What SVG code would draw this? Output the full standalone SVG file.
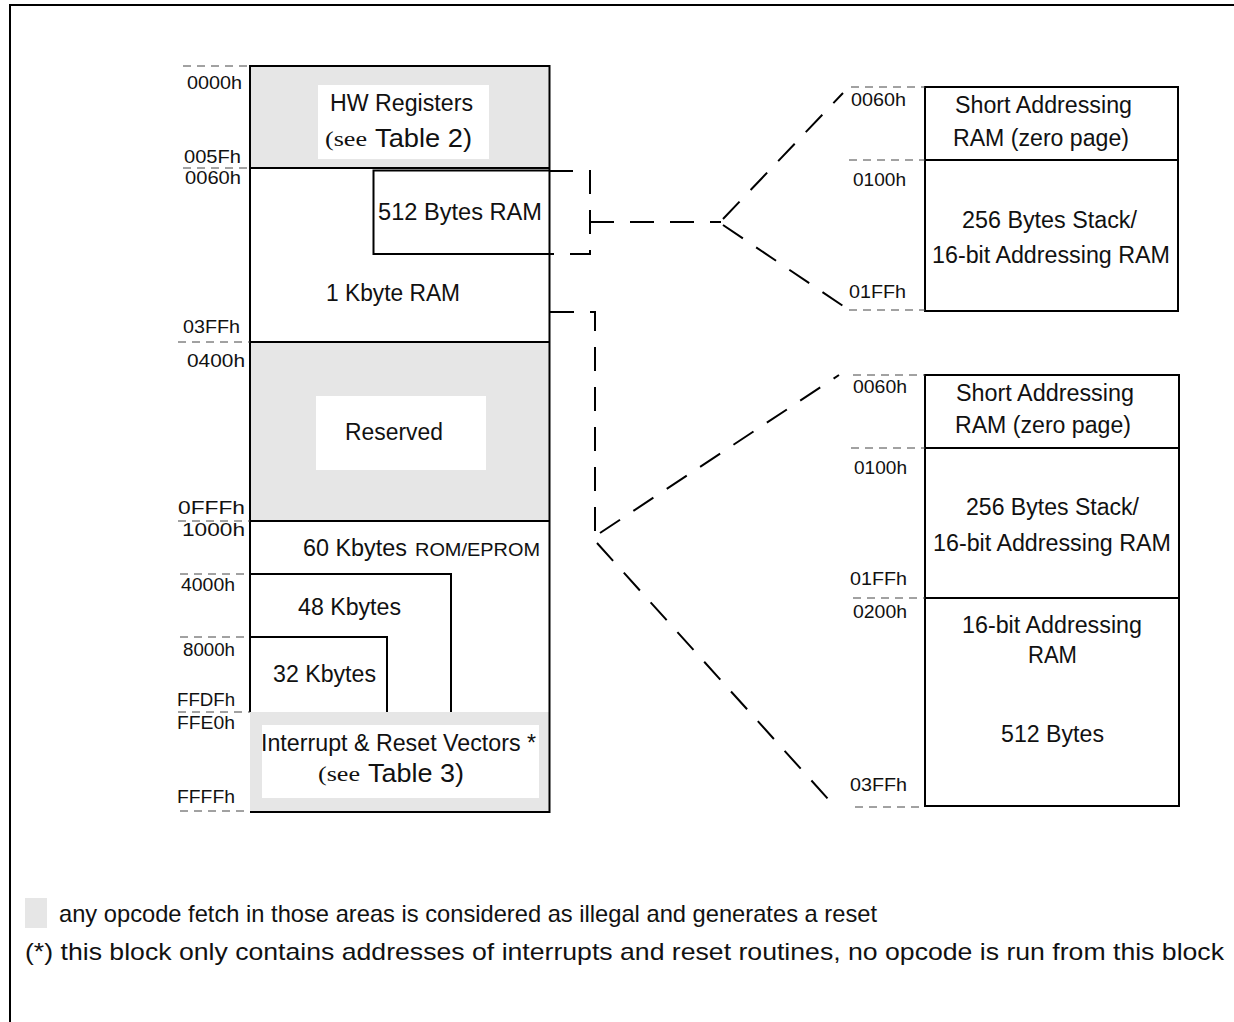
<svg xmlns="http://www.w3.org/2000/svg" width="1234" height="1022" viewBox="0 0 1234 1022">
<style>
  .box { fill: none; stroke: #000; stroke-width: 2; }
  .ln { stroke: #000; stroke-width: 2; fill: none; }
  .gray { fill: #e6e6e6; stroke: none; }
  .white { fill: #fff; stroke: none; }
  .tick { stroke: #444; stroke-width: 1; stroke-dasharray: 8 6; fill: none; }
  .conn { stroke: #000; stroke-width: 2; stroke-dasharray: 24 16; fill: none; }
  .addr { font-family: "Liberation Sans", Arial, sans-serif; font-size: 18px; fill: #111; }
  .lbl { font-family: "Liberation Sans", Arial, sans-serif; font-size: 23px; fill: #111; }
  .ser { font-family: "Liberation Serif", "Times New Roman", serif; font-size: 22px; fill: #111; }
  .big { font-family: "Liberation Sans", Arial, sans-serif; font-size: 26px; fill: #111; }
  .sm { font-family: "Liberation Sans", Arial, sans-serif; font-size: 19px; fill: #111; }
  .leg { font-family: "Liberation Sans", Arial, sans-serif; font-size: 24px; fill: #111; }
</style>
<rect x="0" y="0" width="1234" height="1022" fill="#fff"/>
<g id="frame">
  <path class="ln" d="M10,1022 V5 H1234"/>
</g>

<g id="main-map">
  <rect class="gray" x="250" y="66" width="300" height="102"/>
  <rect class="white" x="318" y="85" width="171" height="74"/>
  <rect class="gray" x="250" y="342" width="300" height="179"/>
  <rect class="white" x="316" y="396" width="170" height="74"/>
  <rect class="gray" x="250" y="712" width="300" height="100"/>
  <rect class="white" x="262" y="725" width="277" height="73"/>
  <path class="ln" d="M250,712 V66 H549.5 V812 H250"/>
  <line class="ln" x1="250" y1="168" x2="550" y2="168"/>
  <line class="ln" x1="250" y1="342" x2="550" y2="342"/>
  <line class="ln" x1="250" y1="521" x2="550" y2="521"/>
  <path class="ln" d="M250,574 H451 V712"/>
  <path class="ln" d="M250,637 H387 V712"/>
</g>

<g id="ram512-box">
  <path class="ln" d="M549,170.5 H373.5 V254 H549"/>
</g>

<g id="ticks-left">
  <line class="tick" x1="183" y1="66" x2="250" y2="66"/>
  <line class="tick" x1="183" y1="168" x2="250" y2="168"/>
  <line class="tick" x1="178" y1="342" x2="250" y2="342"/>
  <line class="tick" x1="178" y1="521" x2="250" y2="521"/>
  <line class="tick" x1="180" y1="574" x2="250" y2="574"/>
  <line class="tick" x1="180" y1="637" x2="250" y2="637"/>
  <line class="tick" x1="178" y1="712" x2="250" y2="712"/>
  <line class="tick" x1="180" y1="811" x2="250" y2="811"/>
</g>

<g id="labels-left">
  <text class="addr" x="187" y="89" textLength="55" lengthAdjust="spacingAndGlyphs">0000h</text>
  <text class="addr" x="184" y="163" textLength="57" lengthAdjust="spacingAndGlyphs">005Fh</text>
  <text class="addr" x="185" y="184" textLength="56" lengthAdjust="spacingAndGlyphs">0060h</text>
  <text class="addr" x="183" y="333" textLength="57" lengthAdjust="spacingAndGlyphs">03FFh</text>
  <text class="addr" x="187" y="367" textLength="58" lengthAdjust="spacingAndGlyphs">0400h</text>
  <text class="addr" x="178" y="514" textLength="67" lengthAdjust="spacingAndGlyphs">0FFFh</text>
  <text class="addr" x="182" y="536" textLength="63" lengthAdjust="spacingAndGlyphs">1000h</text>
  <text class="addr" x="181" y="591" textLength="54" lengthAdjust="spacingAndGlyphs">4000h</text>
  <text class="addr" x="183" y="656" textLength="52" lengthAdjust="spacingAndGlyphs">8000h</text>
  <text class="addr" x="177" y="706" textLength="58" lengthAdjust="spacingAndGlyphs">FFDFh</text>
  <text class="addr" x="177" y="729" textLength="58" lengthAdjust="spacingAndGlyphs">FFE0h</text>
  <text class="addr" x="177" y="803" textLength="58" lengthAdjust="spacingAndGlyphs">FFFFh</text>
</g>

<g id="labels-main">
  <text class="lbl" x="330" y="111" textLength="143" lengthAdjust="spacingAndGlyphs">HW Registers</text>
  <text class="ser" x="325" y="146" textLength="42" lengthAdjust="spacingAndGlyphs">(see</text>
  <text class="big" x="375" y="147" textLength="97" lengthAdjust="spacingAndGlyphs">Table 2)</text>
  <text class="lbl" x="378" y="220" textLength="164" lengthAdjust="spacingAndGlyphs">512 Bytes RAM</text>
  <text class="lbl" x="326" y="301" textLength="134" lengthAdjust="spacingAndGlyphs">1 Kbyte RAM</text>
  <text class="lbl" x="345" y="440" textLength="98" lengthAdjust="spacingAndGlyphs">Reserved</text>
  <text class="lbl" x="303" y="556" textLength="104" lengthAdjust="spacingAndGlyphs">60 Kbytes</text>
  <text class="sm" x="415" y="556" textLength="125" lengthAdjust="spacingAndGlyphs">ROM/EPROM</text>
  <text class="lbl" x="298" y="615" textLength="103" lengthAdjust="spacingAndGlyphs">48 Kbytes</text>
  <text class="lbl" x="273" y="682" textLength="103" lengthAdjust="spacingAndGlyphs">32 Kbytes</text>
  <text class="lbl" x="261" y="751" textLength="275" lengthAdjust="spacingAndGlyphs">Interrupt &amp; Reset Vectors *</text>
  <text class="ser" x="318" y="781" textLength="42" lengthAdjust="spacingAndGlyphs">(see</text>
  <text class="big" x="368" y="782" textLength="96" lengthAdjust="spacingAndGlyphs">Table 3)</text>
</g>

<g id="zero-page-map-1">
  <rect class="box" x="925" y="87" width="253" height="224"/>
  <line class="ln" x1="925" y1="160" x2="1178" y2="160"/>
  <line class="tick" x1="851" y1="87" x2="925" y2="87"/>
  <line class="tick" x1="849" y1="160" x2="925" y2="160"/>
  <line class="tick" x1="849" y1="310" x2="925" y2="310"/>
  <text class="addr" x="851" y="106" textLength="55" lengthAdjust="spacingAndGlyphs">0060h</text>
  <text class="addr" x="853" y="186" textLength="53" lengthAdjust="spacingAndGlyphs">0100h</text>
  <text class="addr" x="849" y="298" textLength="57" lengthAdjust="spacingAndGlyphs">01FFh</text>
  <text class="lbl" x="955" y="113" textLength="177" lengthAdjust="spacingAndGlyphs">Short Addressing</text>
  <text class="lbl" x="953" y="146" textLength="176" lengthAdjust="spacingAndGlyphs">RAM (zero page)</text>
  <text class="lbl" x="962" y="228" textLength="175" lengthAdjust="spacingAndGlyphs">256 Bytes Stack/</text>
  <text class="lbl" x="932" y="263" textLength="238" lengthAdjust="spacingAndGlyphs">16-bit Addressing RAM</text>
</g>

<g id="zero-page-map-2">
  <rect class="box" x="925" y="375" width="254" height="431"/>
  <line class="ln" x1="925" y1="448" x2="1179" y2="448"/>
  <line class="ln" x1="925" y1="598" x2="1179" y2="598"/>
  <line class="tick" x1="853" y1="375" x2="925" y2="375"/>
  <line class="tick" x1="851" y1="448" x2="925" y2="448"/>
  <line class="tick" x1="853" y1="598" x2="925" y2="598"/>
  <line class="tick" x1="855" y1="807" x2="925" y2="807"/>
  <text class="addr" x="853" y="393" textLength="54" lengthAdjust="spacingAndGlyphs">0060h</text>
  <text class="addr" x="854" y="474" textLength="53" lengthAdjust="spacingAndGlyphs">0100h</text>
  <text class="addr" x="850" y="585" textLength="57" lengthAdjust="spacingAndGlyphs">01FFh</text>
  <text class="addr" x="853" y="618" textLength="54" lengthAdjust="spacingAndGlyphs">0200h</text>
  <text class="addr" x="850" y="791" textLength="57" lengthAdjust="spacingAndGlyphs">03FFh</text>
  <text class="lbl" x="956" y="401" textLength="178" lengthAdjust="spacingAndGlyphs">Short Addressing</text>
  <text class="lbl" x="955" y="433" textLength="176" lengthAdjust="spacingAndGlyphs">RAM (zero page)</text>
  <text class="lbl" x="966" y="515" textLength="173" lengthAdjust="spacingAndGlyphs">256 Bytes Stack/</text>
  <text class="lbl" x="933" y="551" textLength="238" lengthAdjust="spacingAndGlyphs">16-bit Addressing RAM</text>
  <text class="lbl" x="962" y="633" textLength="180" lengthAdjust="spacingAndGlyphs">16-bit Addressing</text>
  <text class="lbl" x="1028" y="663" textLength="49" lengthAdjust="spacingAndGlyphs">RAM</text>
  <text class="lbl" x="1001" y="742" textLength="103" lengthAdjust="spacingAndGlyphs">512 Bytes</text>
</g>

<g id="connectors">
  <path class="conn" d="M549,171 H590 V254 H549"/>
  <path class="conn" d="M590,222 H721"/>
  <path class="conn" d="M723,219 L843,93"/>
  <path class="conn" d="M723,225 L849,310"/>
  <path class="conn" d="M550,312 H595 V535"/>
  <path class="conn" d="M600,533 L839,375"/>
  <path class="conn" d="M597,543 L838,810"/>
</g>

<g id="legend">
  <rect class="gray" x="25" y="898" width="22" height="30"/>
  <text class="leg" x="59" y="922" textLength="818" lengthAdjust="spacingAndGlyphs">any opcode fetch in those areas is considered as illegal and generates a reset</text>
  <text class="leg" x="25" y="960" textLength="1199" lengthAdjust="spacingAndGlyphs">(*) this block only contains addresses of interrupts and reset routines, no opcode is run from this block</text>
</g>
</svg>
